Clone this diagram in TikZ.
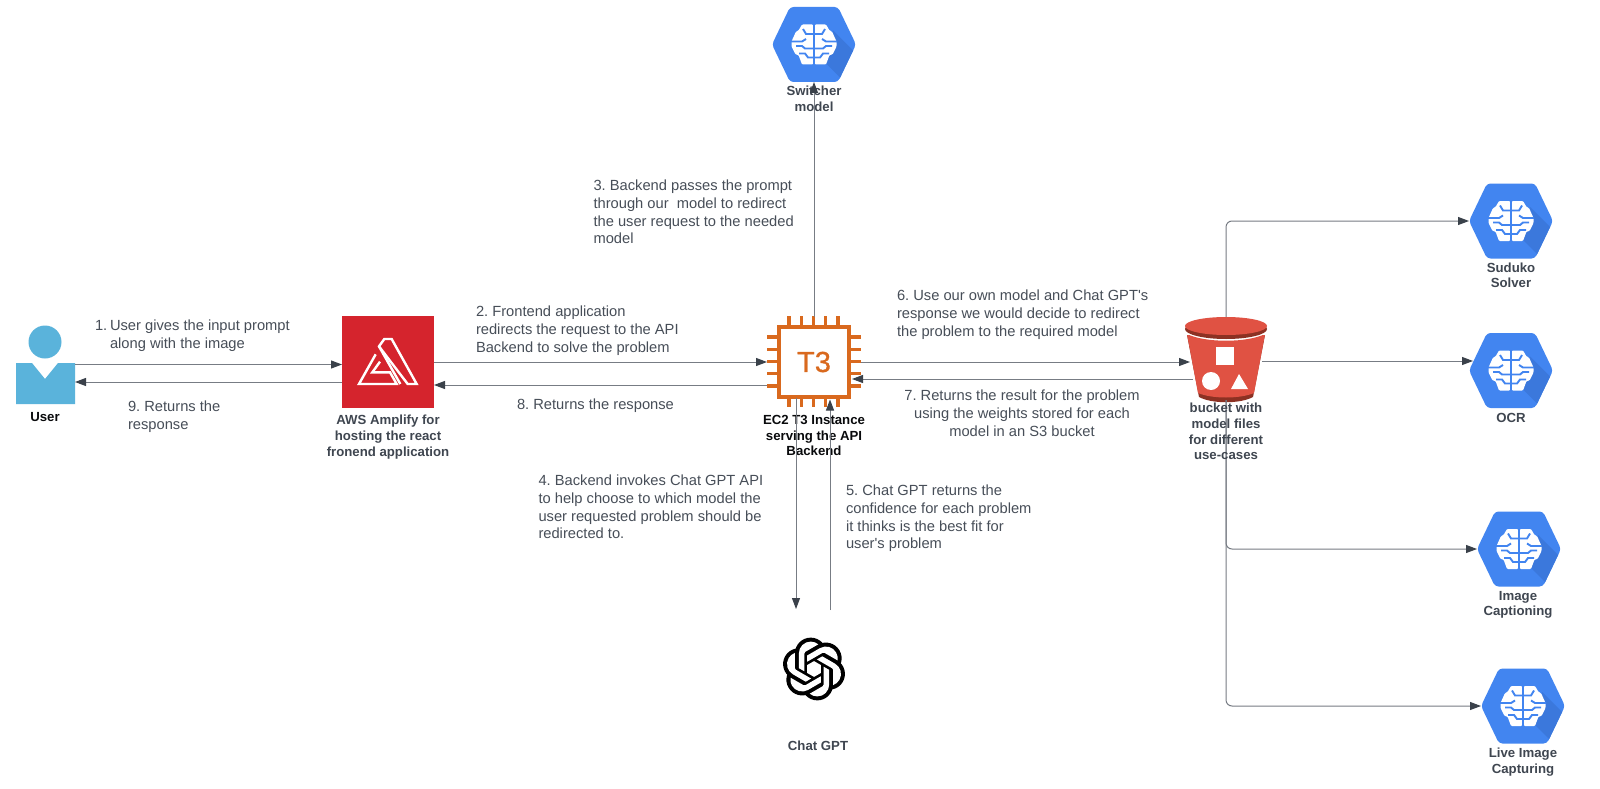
\documentclass[tikz,border=0pt]{standalone}
\usepackage{fontspec}
\setmainfont{Liberation Sans}
\newfontfamily\chipfont[FakeBold=0.7]{Liberation Sans}
\usetikzlibrary{arrows.meta}
\definecolor{ink}{HTML}{474E58}
\definecolor{labink}{HTML}{3F4650}
\definecolor{wire}{HTML}{777C84}
\definecolor{tipc}{HTML}{3A414A}
\definecolor{hexblue}{HTML}{4285F0}
\definecolor{hexdark}{HTML}{3B78DC}
\definecolor{amp}{HTML}{D5242D}
\definecolor{userblue}{HTML}{5AB3DB}
\definecolor{chip}{HTML}{D9691E}
\definecolor{bucketred}{HTML}{E05243}
\definecolor{bucketdark}{HTML}{8C3123}
\tikzset{
  txt/.style={inner sep=0pt,outer sep=0pt,anchor=north west,align=left,text=ink,font=\fontsize{14.7}{17.7}\selectfont\frenchspacing},
  ctxt/.style={txt,anchor=north,align=center},
  lab/.style={inner sep=0pt,outer sep=0pt,anchor=north,align=center,text=labink,font=\fontsize{13.2}{15.8}\selectfont\bfseries},
  blab/.style={lab,text=black!85!labink},
  box/.style={inner sep=0pt,outer sep=0pt,minimum width=#1},
  conn/.style={draw=wire,line width=1pt,-{Triangle[length=11pt,width=8pt,color=tipc]}},
}
% hexagon with brain: name, x, y
\newcommand{\brainhex}[3]{%
  \begin{scope}[shift={(#2,#3)}]
    \begin{scope}
      \clip[rounded corners=3.5pt] (-42,0)--(-24,-37.5)--(24,-37.5)--(42,0)--(24,37.5)--(-24,37.5)--cycle;
      \fill[hexblue] (-44,-40) rectangle (44,40);
      \fill[hexdark] (19,-14)--(44,11)--(44,40)--(33,40)--(12,19)--cycle;
    \end{scope}
    \foreach \s in {1,-1}{
      \begin{scope}[xscale=\s]
        \fill[white,rounded corners=1pt] (0.8,-20)--(12,-20)--(15.5,-14)--(18,-13)--(22.5,-3)--(22.5,2)--(18.5,10)--(15.5,10.5)--(12,20)--(0.8,20)--cycle;
        \draw[hexblue,line width=1.9pt] (0,-10.5)--(8,-10.5)--(11,-15.5);
        \draw[hexblue,line width=1.9pt] (23,-3)--(12,-3)--(8,-5.5);
        \draw[hexblue,line width=1.9pt] (0,4)--(9,4)--(12,1.5)--(18,1.5);
        \draw[hexblue,line width=1.9pt] (0,13)--(6,13)--(9,9)--(15,9);
      \end{scope}
    }
    \draw[hexblue,line width=2pt] (0,-20.5)--(0,20.5);
  \end{scope}
  \node[box=84pt,minimum height=75pt] (#1) at (#2,#3) {};
}
\begin{document}
\begin{tikzpicture}[x=1pt,y=-1pt]
\useasboundingbox (0,0) rectangle (1600,789);
\fill[white] (0,0) rectangle (1600,789);

% ---- user
\fill[userblue] (45,342) circle (16.5);
\fill[userblue] (16,363)--(32,363)--(45,379)--(58,363)--(75,363)--(75,404)--(16,404)--cycle;
\node[box=59pt,minimum height=79pt] (user) at (45.5,364.5) {};
\node[blab] (userlab) at (45,412.5) {User};

% ---- amplify
\node[box=92pt,minimum height=92pt,fill=amp] (amplify) at (388,362) {};
\begin{scope}[shift={(345,325)},x=.33333pt,y=-.33333pt,line width=2.4pt,line join=miter]
  \draw[white] (118,42)--(140,42)--(215,177)--(188,177)--(102,64)--cycle;
  \draw[white] (102,64)--(166,177);
  \draw[white] (92,88)--(42,177)--(155,177)--(135,142)--(82,142)--(105,110);
\end{scope}
\node[lab] (amplab) at (388,415) {AWS Amplify for\\hosting the react\\fronend application};

% ---- T3 chip
\foreach \p in {0,1,2,3,4}{
  \draw[chip,line width=3.4pt] ({789+12.25*\p},316)--({789+12.25*\p},407);
  \draw[chip,line width=3.4pt] (767,{337+12.25*\p})--(861,{337+12.25*\p});
}
\draw[chip,line width=3.6pt,fill=white] (779,327) rectangle (849,397);
\node[box=94pt,minimum height=91pt,text=chip,font=\chipfont\fontsize{29}{29}\selectfont] (t3) at (814,362) {T3};
\node[blab] (t3lab) at (814,415) {EC2 T3 Instance\\serving the API\\Backend};

% ---- bucket
\fill[bucketdark] (1187,335) .. controls (1205,345) and (1247,345) .. (1265,335) -- (1253,397) .. controls (1240,404) and (1212,404) .. (1199,397) -- cycle;
\fill[bucketred] (1187,334) .. controls (1205,343) and (1247,343) .. (1265,334) -- (1254,393) .. controls (1240,399) and (1212,399) .. (1198,393) -- cycle;
\fill[white] (1185,327) rectangle (1267,335);
\fill[white] (1185,329) .. controls (1205,342) and (1247,342) .. (1267,329) -- (1267,325) -- (1185,325) -- cycle;
\fill[bucketdark] (1226,329) ellipse (41 and 10);
\fill[bucketred] (1226,326) ellipse (41 and 9);
\fill[white] (1216,347) rectangle (1234,365);
\fill[white] (1211,381) circle (9);
\fill[white] (1239,374)--(1248,389)--(1231,389)--cycle;
\node[box=82pt,minimum height=83pt] (bucket) at (1226,358.5) {};

% ---- model hexagons
\brainhex{switcher}{814}{44.5}
\brainhex{suduko}{1511}{221}
\brainhex{ocr}{1511}{370.5}
\brainhex{caption}{1519}{549}
\brainhex{live}{1523}{706}
\node[lab] (swlab) at (814,86) {Switcher\\model};
\node[lab] (sudlab) at (1511,262.5) {Suduko\\Solver};
\node[lab] (ocrlab) at (1511,413) {OCR};
\node[lab] (caplab) at (1518,591) {Image\\Captioning};
\node[lab] (livelab) at (1523,748) {Live Image\\Capturing};

% ---- chat gpt
\begin{scope}[shift={(814,669)},x=2.63pt,y=-2.63pt]
  \foreach \a in {0,60,...,300}{
    \fill[black,rotate=\a] (-1.253,-5.926) circle (6);
  }
  \fill[black] (0,0) circle (8);
  \foreach \a in {0,60,...,300}{
    \begin{scope}[rotate=\a,shift={(-12,-12)}]
      \fill[white] (8.3065,12.863)--(6.2865,11.6992)--(6.2485,11.64)--(6.2485,6.0742)
        arc[start angle=-180,end angle=-50.2,radius=4.4992]
        --(13.482,2.70)--(8.704,5.459)--(8.3113,6.14)--cycle;
    \end{scope}
  }
  \begin{scope}[shift={(-12,-12)}]
    \fill[white] (9.4041,10.4976)--(12.0061,8.9978)--(14.613,10.4976)--(14.613,13.497)--(12.0156,14.9967)--(9.4089,13.497)--cycle;
  \end{scope}
\end{scope}
\node[box=64pt,minimum height=120pt] (gpt) at (815,669) {};
\node[lab] (gptlab) at (818,741) {Chat GPT};

% ---- connectors
\draw[conn] (user.east) -- (user.east -| amplify.west);
\draw[conn] ([yshift=-17.5pt]user.east -| amplify.west) -- ([yshift=-17.5pt]user.east);
\draw[conn] (amplify.east) -- (t3.west);
\draw[conn] ([yshift=-23pt]t3.west) -- ([yshift=-23pt]amplify.east);
\draw[conn] (t3.north) -- (switcher.south);
\draw[conn] ([xshift=-18pt,yshift=10pt]t3.south) -- ([xshift=-19pt]gpt.north);
\draw[conn] ([xshift=15pt,yshift=-1pt]gpt.north) -- ([xshift=16pt,yshift=8pt]t3.south);
\draw[conn] (t3.east) -- ([xshift=5pt]bucket.west |- t3.east);
\draw[conn] ([xshift=8pt,yshift=-20.5pt]bucket.west) -- ([xshift=-9pt,yshift=-20.5pt]bucket.west -| t3.east);
\draw[conn,rounded corners=6pt] (bucket.north) |- (suduko.west);
\draw[conn] ([xshift=-5pt,yshift=-2.5pt]bucket.east) -- ([xshift=4pt,yshift=9.5pt]ocr.west);
\draw[conn,rounded corners=6pt] (bucket.south) |- (caption.west);
\draw[conn,rounded corners=6pt] (bucket.south) |- (live.west);

\node[lab] (bucketlab) at (1226,403) {bucket with\\model files\\for different\\use-cases};

% ---- step texts
\node[txt] (s1n) at (95,320) {1.};
\node[txt] (s1) at (110,320) {User gives the input prompt\\along with the image};
\node[txt] (s9) at (128,401) {9. Returns the\\response};
\node[txt] (s2) at (476,306) {2. Frontend application\\redirects the request to the API\\Backend to solve the problem};
\node[txt] (s3) at (593.5,180) {3. Backend passes the prompt\\through our\ \ model to redirect\\the user request to the needed\\model};
\node[txt] (s4) at (538.5,475) {4. Backend invokes Chat GPT API\\to help choose to which model the\\user requested problem should be\\redirected to.};
\node[txt] (s5) at (846,485) {5. Chat GPT returns the\\confidence for each problem\\it thinks is the best fit for\\user\textquotesingle s problem};
\node[txt] (s6) at (897,290) {6. Use our own model and Chat GPT\textquotesingle s\\response we would decide to redirect\\the problem to the required model};
\node[ctxt] (s7) at (1022,390) {7. Returns the result for the problem\\using the weights stored for each\\model in an S3 bucket};
\node[txt] (s8) at (517,399) {8. Returns the response};
\end{tikzpicture}
\end{document}
